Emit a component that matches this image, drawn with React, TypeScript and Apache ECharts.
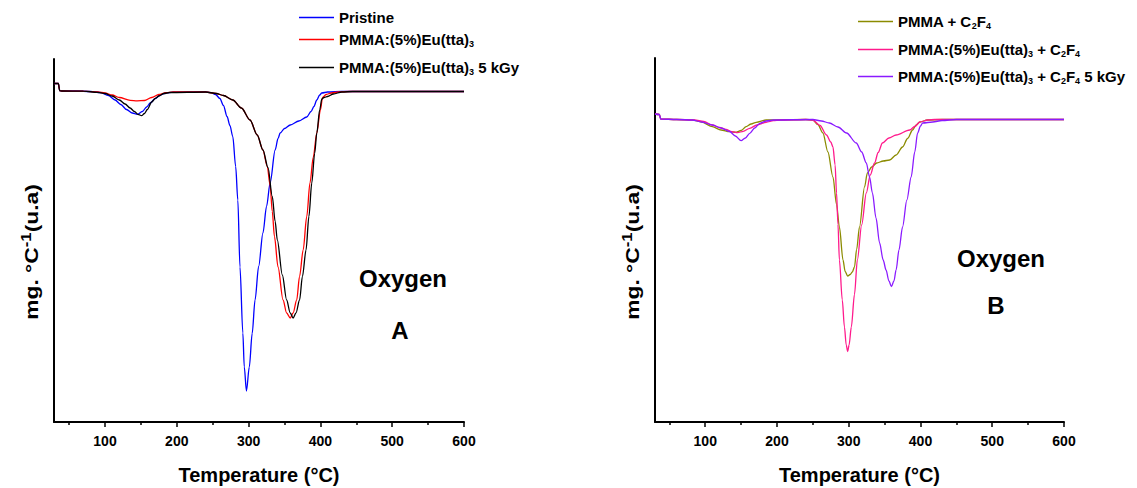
import React, { useEffect, useRef } from "react";
import * as echarts from "echarts";

const FONT = "'Liberation Sans', Arial, Helvetica, sans-serif";

// x tick labels
const majorTicks = [100, 200, 300, 400, 500, 600];
const minorTicks = [50, 150, 250, 350, 450, 550];

// Panel A (values: mg.°C^-1, arbitrary units, baseline 0)
const pristine: number[][] = [
  [29, 0.08], [35, 0.08], [37, 0.008], [40, 0.005], [60, 0.005], [80, 0.0], [93, -0.01], [105, -0.04],
  [114, -0.085], [122, -0.13], [130, -0.18], [138, -0.215], [145, -0.228], [152, -0.2], [158, -0.155],
  [163, -0.115], [170, -0.07], [177, -0.035], [185, -0.015], [195, -0.007], [220, -0.005], [240, -0.005],
  [248, -0.012], [254, -0.03], [260, -0.07], [265, -0.14], [270, -0.25], [274, -0.34], [278, -0.45],
  [282, -0.75], [285, -1.085], [288, -1.755], [292, -2.415], [294, -2.755], [297, -2.995], [301, -2.755],
  [305, -2.42], [309, -2.085], [314, -1.75], [320, -1.415], [325, -1.15], [330, -0.915], [337, -0.585],
  [341, -0.47], [344, -0.415], [350, -0.37], [358, -0.335], [370, -0.295], [381, -0.255], [387, -0.2],
  [391, -0.15], [395, -0.085], [399, -0.035], [402, -0.015], [410, -0.005], [430, 0], [600, 0],
];
const pmmaEu: number[][] = [
  [29, 0.08], [35, 0.08], [37, 0.008], [40, 0.005], [70, 0.003], [90, -0.005], [100, -0.015], [110, -0.035],
  [120, -0.06], [135, -0.088], [145, -0.093], [155, -0.09], [165, -0.06], [175, -0.03], [185, -0.012],
  [195, -0.005], [240, -0.005], [255, -0.02], [265, -0.04], [278, -0.085], [290, -0.165], [302, -0.285],
  [312, -0.435], [320, -0.585], [326, -0.75], [330, -0.94], [333, -1.2], [336, -1.45], [341, -1.755],
  [348, -2.085], [353, -2.215], [358, -2.265], [362, -2.215], [367, -2.085], [371, -1.85], [376, -1.585],
  [381, -1.25], [385.5, -0.915], [390, -0.66], [395, -0.415], [400, -0.185], [403, -0.06], [408, -0.03],
  [415, -0.015], [425, -0.005], [440, 0], [600, 0],
];
const pmmaEu5kGy: number[][] = [
  [29, 0.08], [35, 0.08], [37, 0.008], [40, 0.005], [70, 0.003], [90, -0.008], [100, -0.02], [110, -0.045],
  [120, -0.085], [128, -0.125], [135, -0.165], [141, -0.2], [146, -0.228], [151, -0.242], [155, -0.22],
  [159, -0.18], [165, -0.105], [170, -0.07], [175, -0.045], [182, -0.02], [190, -0.01], [240, -0.005],
  [255, -0.02], [265, -0.04], [278, -0.085], [290, -0.165], [302, -0.285], [312, -0.435], [320, -0.585],
  [327, -0.76], [333, -1.05], [337, -1.3], [340, -1.485], [347, -1.835], [353, -2.085], [358, -2.215],
  [362, -2.265], [366, -2.215], [371, -2.085], [375, -1.85], [380, -1.585], [384, -1.25], [388, -0.915],
  [392, -0.62], [395, -0.415], [399, -0.185], [402, -0.075], [405, -0.06], [410, -0.05], [418, -0.025],
  [430, -0.005], [445, 0], [600, 0],
];

// Panel B
const pmmaC2F4: number[][] = [
  [30, 0.055], [36, 0.05], [38, 0.005], [60, 0], [82, -0.005], [95, -0.025], [110, -0.072], [122, -0.105],
  [134, -0.122], [143, -0.128], [150, -0.11], [157, -0.072], [164, -0.045], [171, -0.028], [185, -0.005],
  [240, 0], [250, -0.005], [257, -0.05], [264, -0.135], [271, -0.325], [278, -0.575], [283, -0.85],
  [287, -1.075], [292, -1.405], [295, -1.52], [298.5, -1.565], [302, -1.55], [305, -1.525], [308, -1.475],
  [311, -1.3], [315, -1.075], [322, -0.675], [326, -0.535], [332, -0.475], [339, -0.435], [348, -0.415],
  [357, -0.405], [366, -0.355], [375, -0.275], [382, -0.19], [389, -0.105], [394, -0.055], [399, -0.025],
  [410, -0.005], [430, 0], [600, 0],
];
const pmmaEuC2F4: number[][] = [
  [30, 0.055], [36, 0.05], [38, 0.005], [60, 0], [85, -0.005], [98, -0.02], [110, -0.055], [120, -0.08],
  [129, -0.098], [137, -0.122], [145, -0.132], [153, -0.118], [162, -0.088], [172, -0.055], [185, -0.028],
  [195, -0.012], [204, -0.005], [240, 0], [250, -0.005], [260, -0.06], [269, -0.155], [275, -0.225],
  [278, -0.275], [281, -0.455], [283, -0.735], [285, -1.05], [287, -1.405], [291, -1.805], [294, -2.075],
  [296.5, -2.255], [298.5, -2.32], [300.5, -2.255], [303.6, -2.075], [308, -1.75], [312, -1.405],
  [318, -1.055], [324.5, -0.735], [330, -0.555], [336, -0.435], [341, -0.33], [347, -0.235], [356, -0.185],
  [366, -0.155], [385, -0.105], [392, -0.07], [399, -0.025], [410, -0.005], [420, 0], [600, 0],
];
const pmmaEuC2F45kGy: number[][] = [
  [30, 0.055], [36, 0.05], [38, 0.005], [60, 0], [82, -0.005], [95, -0.025], [110, -0.055], [122, -0.085],
  [134, -0.12], [142, -0.165], [150, -0.212], [156, -0.185], [162, -0.138], [169, -0.085], [176, -0.038],
  [185, -0.015], [195, -0.005], [250, 0], [262, -0.015], [273, -0.035], [285, -0.075], [297, -0.135],
  [310.5, -0.235], [318, -0.325], [324.5, -0.435], [329, -0.575], [333, -0.735], [338, -0.985], [343, -1.235],
  [348, -1.405], [352, -1.505], [356, -1.615], [359.5, -1.67], [363, -1.615], [366, -1.505], [370, -1.305],
  [375, -1.075], [381, -0.805], [387, -0.575], [392, -0.325], [396, -0.135], [400, -0.065], [403, -0.035],
  [417, -0.025], [430, -0.01], [450, 0], [600, 0],
];

const names = [
  "Pristine",
  "PMMA:(5%)Eu(tta)3",
  "PMMA:(5%)Eu(tta)3 5 kGy",
  "PMMA + C2F4",
  "PMMA:(5%)Eu(tta)3 + C2F4",
  "PMMA:(5%)Eu(tta)3 + C2F4 5 kGy",
];
const richNames: Record<string, string> = {
  [names[0]]: "{b|Pristine}",
  [names[1]]: "{b|PMMA:(5%)Eu(tta)}{s|3}",
  [names[2]]: "{b|PMMA:(5%)Eu(tta)}{s|3}{b| 5 kGy}",
  [names[3]]: "{b|PMMA + C}{s|2}{b|F}{s|4}",
  [names[4]]: "{b|PMMA:(5%)Eu(tta)}{s|3}{b| + C}{s|2}{b|F}{s|4}",
  [names[5]]: "{b|PMMA:(5%)Eu(tta)}{s|3}{b| + C}{s|2}{b|F}{s|4}{b| 5 kGy}",
};
const colors = ["#0000FF", "#FF0000", "#000000", "#8B8B00", "#FF1A8C", "#8A1AFF"];
const datasets = [pristine, pmmaEu, pmmaEu5kGy, pmmaC2F4, pmmaEuC2F4, pmmaEuC2F45kGy];

export default function App() {
  const ref = useRef<HTMLDivElement>(null);
  useEffect(() => {
    if (!ref.current) return;
    const chart = echarts.init(ref.current, undefined, { renderer: "svg" });

    const legendRich = {
      b: { fontSize: 15, fontWeight: "bold", fontFamily: FONT, color: "#000", lineHeight: 17 },
      s: { fontSize: 9, fontWeight: "bold", fontFamily: FONT, color: "#000", verticalAlign: "bottom", lineHeight: 5 },
    };
    const legendPos = [
      [299, 18], [299, 40], [299, 68],
      [858, 22], [858, 50], [858, 77],
    ];
    const legends = names.map((n, i) => ({
      show: true,
      data: [n],
      left: legendPos[i][0],
      top: legendPos[i][1] - 8,
      orient: "horizontal",
      padding: 0,
      icon: "rect",
      itemWidth: 35,
      itemHeight: 1.4,
      itemGap: 0,
      selectedMode: false,
      formatter: (name: string) => richNames[name],
      textStyle: { rich: legendRich },
    }));

    const mkX = (grid: number, min: number) => [
      {
        type: "value",
        gridIndex: grid,
        position: "bottom",
        min,
        max: 600,
        name: "Temperature (°C)",
        nameLocation: "middle",
        nameGap: 43,
        nameTextStyle: { fontSize: 20, fontWeight: "bold", fontFamily: FONT, color: "#000" },
        axisLine: { show: true, onZero: false, lineStyle: { color: "#000", width: 2 } },
        axisTick: { show: true, inside: false, length: 5, lineStyle: { color: "#000", width: 1.5 }, customValues: majorTicks },
        axisLabel: { show: true, customValues: majorTicks, margin: 12, fontSize: 14, fontWeight: "bold", fontFamily: FONT, color: "#000" },
        splitLine: { show: false },
      },
      {
        type: "value",
        gridIndex: grid,
        position: "bottom",
        offset: 0,
        min,
        max: 600,
        axisLine: { show: false, onZero: false },
        axisTick: { show: true, inside: false, length: 3, lineStyle: { color: "#000", width: 1.5 }, customValues: minorTicks },
        axisLabel: { show: false },
        splitLine: { show: false },
      },
    ];
    const mkY = (grid: number, min: number, max: number) => ({
      type: "value",
      gridIndex: grid,
      min,
      max,
      axisLine: { show: true, onZero: false, lineStyle: { color: "#000", width: 2 } },
      axisTick: { show: false },
      axisLabel: { show: false },
      splitLine: { show: false },
    });

    const yLabel = (x: number) => ({
      type: "text",
      x,
      y: 252,
      rotation: Math.PI / 2,
      scaleX: 1.2,
      style: {
        text: "{a|mg. °C}{s|-1}{a|(u.a)}",
        rich: {
          a: { fontSize: 19, fontWeight: "bold", fontFamily: FONT, fill: "#000", lineHeight: 24 },
          s: { fontSize: 14, fontWeight: "bold", fontFamily: FONT, fill: "#000", verticalAlign: "top", lineHeight: 1 },
        },
        align: "center",
        verticalAlign: "middle",
      },
    });
    const bigText = (text: string, x: number, y: number) => ({
      type: "text",
      x,
      y,
      style: { text, font: `bold 24px ${FONT}`, fill: "#000", align: "center", verticalAlign: "middle" },
    });

    chart.setOption({
      animation: false,
      backgroundColor: "#fff",
      grid: [
        { left: 54, top: 59, width: 410, height: 363, containLabel: false, outerBoundsMode: "none" },
        { left: 655, top: 58, width: 409, height: 364, containLabel: false, outerBoundsMode: "none" },
      ],
      legend: legends,
      xAxis: [...mkX(0, 29), ...mkX(1, 30)],
      yAxis: [mkY(0, -3.305, 0.325), mkY(1, -3.025, 0.615)],
      series: datasets.map((d, i) => ({
        name: names[i],
        type: "line",
        data: d,
        xAxisIndex: i < 3 ? 0 : 2,
        yAxisIndex: i < 3 ? 0 : 1,
        showSymbol: false,
        symbol: "none",
        smooth: 0.3,
        smoothMonotone: "x",
        color: colors[i],
        lineStyle: { color: colors[i], width: 1.3 },
        z: i === 2 || i === 5 ? 3 : 2,
      })),
      graphic: [
        yLabel(31),
        yLabel(632),
        bigText("Oxygen", 403, 278),
        bigText("A", 400, 330),
        bigText("Oxygen", 1001, 258),
        bigText("B", 996, 305),
      ],
    });
    return () => chart.dispose();
  }, []);
  return <div ref={ref} style={{ position: "fixed", left: 0, top: 0, width: 1137, height: 488 }} />;
}
